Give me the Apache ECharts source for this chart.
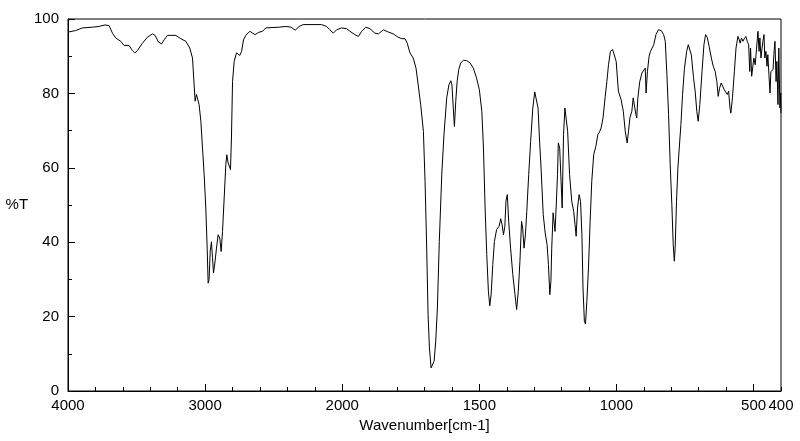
<!DOCTYPE html>
<html>
<head>
<meta charset="utf-8">
<script src="https://cdn.jsdelivr.net/npm/echarts@6/dist/echarts.min.js"></script>
<style>html,body{margin:0;padding:0;background:#fff}#c{width:800px;height:441px}</style>
</head>
<body>
<div id="c"></div>
<script>
// Wavenumber (cm-1) and transmittance (%T)
const wavenumber = [3997,3944,3895,3822,3773,3730,3700,3676,3652,3615,3591,3555,3530,3513,3494,3457,3421,3384,3365,3340,3318,3299,3275,3214,3177,3141,3112,3092,3080,3073,3063,3053,3044,3031,3019,3007,2995,2985,2978,2971,2963,2954,2946,2939,2929,2917,2905,2893,2883,2873,2861,2849,2842,2832,2825,2815,2808,2800,2788,2771,2759,2747,2734,2720,2703,2674,2654,2635,2610,2581,2557,2460,2411,2374,2343,2314,2285,2151,2114,2090,2065,2041,2005,1984,1972,1954,1941,1929,1914,1899,1881,1868,1850,1832,1814,1796,1783,1771,1763,1753,1741,1731,1723,1714,1704,1698,1692,1687,1682,1676,1671,1665,1659,1653,1646,1637,1629,1619,1611,1604,1600,1595,1591,1586,1581,1575,1568,1558,1546,1534,1522,1510,1500,1491,1485,1479,1473,1467,1462,1457,1451,1445,1437,1428,1422,1417,1412,1407,1403,1398,1393,1386,1378,1370,1364,1358,1352,1346,1342,1337,1332,1327,1320,1313,1305,1298,1292,1286,1280,1275,1267,1260,1253,1248,1243,1239,1236,1231,1226,1224,1220,1215,1212,1207,1202,1198,1193,1188,1184,1178,1171,1163,1156,1151,1147,1142,1136,1131,1126,1122,1117,1113,1108,1102,1096,1090,1083,1075,1068,1062,1056,1049,1041,1035,1029,1022,1014,1007,1001,993,983,975,968,961,956,951,944,939,934,929,926,922,915,907,900,895,892,887,881,876,869,864,856,847,837,828,822,816,810,804,798,793,789,786,781,776,771,765,759,752,744,738,732,727,719,713,707,702,696,688,681,675,669,662,654,647,640,634,629,624,618,612,607,601,596,591,586,583,577,570,564,557,552,549,544,539,534,528,523,518,514,511,507,504,499,494,489,484,480,477,473,469,466,462,459,455,451,448,444,440,437,433,429,426,422,418,415,411,408,404,401,400];
const transmittance = [96.5,96.9,97.6,97.8,98.0,98.4,98.2,96.2,94.9,94.0,92.9,92.9,91.5,90.9,91.5,93.5,95.1,96.0,95.6,93.8,93.3,94.4,95.6,95.6,94.7,94.0,92.2,89.5,82.3,77.9,79.7,79.9,77.0,72.5,65.3,58.2,49.2,38.4,29.0,29.9,37.5,40.1,35.8,31.7,34.4,38.4,42.0,41.1,37.5,42.9,51.9,60.8,63.5,61.3,61.7,59.5,68.0,83.2,88.6,90.9,91.3,90.2,91.3,94.4,95.6,96.7,96.2,95.8,96.4,96.7,97.6,97.8,98.0,97.8,97.0,98.0,98.5,98.5,98.0,97.1,96.2,97.1,97.6,97.4,96.7,95.8,95.3,96.7,97.8,97.4,96.2,96.0,97.1,96.5,96.0,95.1,94.7,94.7,93.5,90.9,89.5,86.8,82.3,77.0,69.8,56.4,38.4,20.5,11.6,6.2,5.7,8.0,13.4,22.3,40.2,58.2,68.9,78.8,82.3,83.4,82.3,76.1,71.1,77.9,83.2,86.4,88.2,88.9,88.8,88.2,86.8,84.1,81.0,75.2,65.3,49.2,36.7,26.8,22.9,25.9,34.0,40.2,43.4,44.3,46.3,44.7,42.0,44.3,51.0,52.8,45.6,38.4,31.3,25.9,21.9,26.8,34.9,45.6,43.8,38.4,42.0,48.3,58.2,67.1,76.1,80.4,79.9,76.1,66.7,59.9,47.4,42.5,39.3,34.0,25.9,29.5,38.4,47.9,47.4,42.9,49.2,58.2,66.7,65.3,56.4,49.2,68.9,76.1,75.6,69.8,58.2,51.0,48.3,44.7,41.6,49.2,52.8,51.0,42.0,27.7,18.7,18.0,24.1,33.1,45.6,56.4,63.5,65.8,68.9,69.6,70.7,73.4,79.2,83.2,87.7,91.3,91.8,91.5,88.6,80.6,78.3,75.2,69.8,66.7,69.8,73.4,75.2,78.8,79.2,74.3,73.4,78.8,83.2,85.5,85.9,86.8,80.1,85.9,90.0,91.3,90.9,93.1,95.8,97.1,96.9,95.8,94.0,85.0,74.3,60.8,50.1,39.3,34.9,38.4,51.0,59.9,65.3,71.6,79.7,86.8,91.3,93.1,93.3,90.4,84.2,80.6,75.2,72.5,77.0,85.9,93.1,95.8,95.1,92.6,89.5,87.3,85.9,83.2,79.2,81.4,82.8,83.2,81.0,81.4,79.7,80.6,76.1,74.7,78.8,85.9,92.2,95.3,94.4,93.5,94.9,94.0,94.7,95.3,94.0,93.1,85.9,92.2,84.6,84.2,89.5,87.7,92.2,96.7,91.3,94.9,89.5,92.2,94.0,95.8,89.5,91.3,87.3,90.4,85.0,80.1,85.9,85.5,86.4,90.4,94.0,83.2,88.6,77.0,92.2,76.1,80.1,74.7];
const majorTicks = [4000,3000,2000,1500,1000,500];
const tickLabels = [4000,3000,2000,1500,1000,500,400];
const yLabels = [0,20,40,60,80,100];

// axis above 2000 cm-1 is compressed by a factor of 2
function toAxis(w){ return w > 2000 ? 2000 + (w - 2000) / 2 : w; }
function fromAxis(t){ return t > 2000 ? 2000 + (t - 2000) * 2 : t; }

const seriesData = wavenumber.map((w, i) => [toAxis(w), transmittance[i]]);
const FONT = '"Liberation Sans", Arial, sans-serif';

const chart = echarts.init(document.getElementById('c'), null, {renderer: 'canvas'});
chart.setOption({
  animation: false,
  backgroundColor: '#fff',
  grid: {left: 68, right: 19, top: 19, bottom: 50, show: true, borderColor: '#000', borderWidth: 1, containLabel: false},
  xAxis: [{
    type: 'value', min: 400, max: 3000, inverse: true, position: 'bottom',
    name: 'Wavenumber[cm-1]', nameLocation: 'middle', nameGap: 22,
    nameTextStyle: {color: '#000', fontFamily: FONT, fontSize: 15},
    axisLine: {show: true, onZero: false, lineStyle: {color: '#000', width: 1}},
    axisTick: {show: true, inside: true, length: 7, lineStyle: {color: '#000'}, customValues: majorTicks.map(toAxis)},
    axisLabel: {show: true, color: '#000', fontFamily: FONT, fontSize: 15, margin: 7,
      showMinLabel: true, showMaxLabel: true, hideOverlap: false,
      customValues: tickLabels.map(toAxis), formatter: v => String(Math.round(fromAxis(v)))},
    splitLine: {show: false}
  }, {
    type: 'value', min: 400, max: 3000, interval: 100, inverse: true, position: 'bottom',
    axisLine: {show: false},
    axisTick: {show: true, inside: true, length: 4, lineStyle: {color: '#000'}},
    axisLabel: {show: false}, splitLine: {show: false}
  }],
  yAxis: [{
    type: 'value', min: 0, max: 100, interval: 20, position: 'left',
    name: '%T', nameLocation: 'middle', nameRotate: 0, nameGap: 38,
    nameTextStyle: {color: '#000', fontFamily: FONT, fontSize: 15},
    axisLine: {show: true, onZero: false, lineStyle: {color: '#000', width: 1}},
    axisTick: {show: true, inside: true, length: 7, lineStyle: {color: '#000'}},
    axisLabel: {show: true, color: '#000', fontFamily: FONT, fontSize: 15, margin: 9,
      customValues: yLabels},
    splitLine: {show: false}
  }, {
    type: 'value', min: 0, max: 100, interval: 10, position: 'left',
    axisLine: {show: false},
    axisTick: {show: true, inside: true, length: 4, lineStyle: {color: '#000'}},
    axisLabel: {show: false}, splitLine: {show: false}
  }],
  series: [{
    type: 'line', xAxisIndex: 0, yAxisIndex: 0, data: seriesData,
    showSymbol: false, symbol: 'none', smooth: false,
    lineStyle: {color: '#000', width: 1}
  }]
});
</script>
</body>
</html>
